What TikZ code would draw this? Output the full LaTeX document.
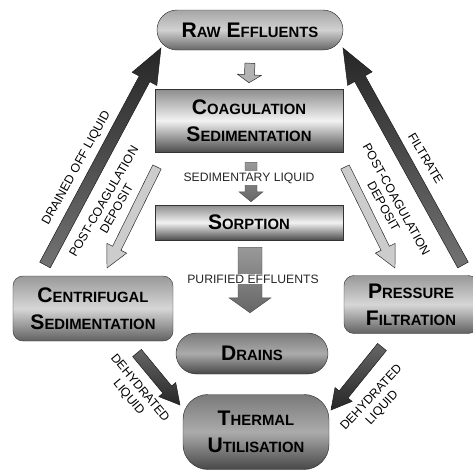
\documentclass[tikz,border=0pt]{standalone}
\usepackage{fontspec}
\setmainfont{Liberation Sans}
\usetikzlibrary{calc}

% first letter large, rest in small capitals
\newcommand{\capw}[2]{{\fontsize{18}{23}\selectfont #1}{\fontsize{12.7}{23}\selectfont #2}}
% block arrow: style, tail, tip, shaft half width, head half width, head length
\newcommand{\flowarrow}[6]{%
    \coordinate (hb) at ($(#3)!#6!(#2)$);
    \draw[#1] ($(#2)!#4!90:(#3)$) -- ($(hb)!#4!90:(#3)$) -- ($(hb)!#5!90:(#3)$) -- (#3)
        -- ($(hb)!#5!-90:(#3)$) -- ($(hb)!#4!-90:(#3)$) -- ($(#2)!#4!-90:(#3)$) -- cycle;}

\begin{document}
\begin{tikzpicture}[
        stage/.style={rectangle, draw=black!80, align=center, inner sep=0pt, font=\bfseries\fontsize{18}{23}\selectfont},
        bright/.style={stage, top color=black!45, bottom color=black!70, middle color=black!5},
        plain/.style={stage, rounded corners=0.3cm, top color=black!40, bottom color=black!62, middle color=black!16},
        pill/.style={stage, top color=black!35, bottom color=black!60, middle color=black!18},
        dark/.style={stage, top color=black!52, bottom color=black!72, middle color=black!33},
        flowlabel/.style={font=\fontsize{10.4}{12}\selectfont, text=black!85, inner sep=1pt},
        sidelabel/.style={font=\fontsize{10.5}{12.5}\selectfont, align=center, inner sep=0pt},
        upflow/.style={draw=black!90, top color=black!85, bottom color=black!55},
        downflow/.style={draw=black!90, top color=black!60, bottom color=black!85},
        lightflow/.style={draw=black!85, fill=black!20},
        midflow/.style={draw=black!70, top color=black!40, bottom color=black!60}
    ]

    % Frame of the figure
    \useasboundingbox (0,0) rectangle (14.19,14.1);
    \clip (0,0) rectangle (14.19,14.1);

    % Process stages
    \node[pill, rounded corners=0.6cm, minimum width=5.58cm, minimum height=1.2cm] (raw) at (7.5,13.2) {\capw{R}{AW} \capw{E}{FFLUENTS}};
    \node[bright, minimum width=5.64cm, minimum height=1.89cm] (coag) at (7.47,10.485) {\capw{C}{OAGULATION}\\\capw{S}{EDIMENTATION}};
    \node[bright, minimum width=5.64cm, minimum height=1.05cm] (sorp) at (7.47,7.425) {\capw{S}{ORPTION}};
    \node[plain, minimum width=4.8cm, minimum height=1.95cm] (centr) at (2.79,4.845) {\capw{C}{ENTRIFUGAL}\\\capw{S}{EDIMENTATION}};
    \node[plain, minimum width=4.02cm, minimum height=1.74cm] (press) at (12.33,4.965) {\capw{P}{RESSURE}\\\capw{F}{ILTRATION}};
    \node[dark, rounded corners=0.615cm, minimum width=4.56cm, minimum height=1.23cm] (drains) at (7.56,3.495) {\capw{D}{RAINS}};
    \node[dark, rounded corners=0.75cm, minimum width=4.38cm, minimum height=2.25cm] (therm) at (7.68,1.14) {\capw{T}{HERMAL}\\\capw{U}{TILISATION}};

    % Main line down the middle
    \coordinate (t1) at ($(raw.south)+(0,-0.39)$);
    \coordinate (h1) at ($(coag.north)+(0,0.18)$);
    \flowarrow{lightflow, fill=black!30}{t1}{h1}{0.15cm}{0.36cm}{0.24cm}
    \coordinate (t2) at ($(coag.south)+(0.06,-0.3)$);
    \coordinate (h2) at ($(sorp.north)+(0.06,0.09)$);
    \flowarrow{midflow}{t2}{h2}{0.18cm}{0.36cm}{0.3cm}
    \node[flowlabel, fill=white] (sedliq) at (7.47,8.76) {SEDIMENTARY LIQUID};
    \coordinate (t3) at ($(sorp.south)+(0.03,-0.21)$);
    \coordinate (h3) at ($(drains.north)+(-0.06,0.6)$);
    \flowarrow{midflow}{t3}{h3}{0.36cm}{0.63cm}{0.45cm}
    \node[flowlabel, fill=white] (purif) at (7.59,5.73) {PURIFIED EFFLUENTS};

    % Left branch
    \coordinate (ldt) at (1.35,6.15);
    \coordinate (ldh) at (4.83,12.66);
    \flowarrow{upflow}{ldt}{ldh}{0.18cm}{0.42cm}{1.05cm}
    \coordinate (llt) at (4.71,9.09);
    \coordinate (llh) at (3.21,6.06);
    \flowarrow{lightflow}{llt}{llh}{0.14cm}{0.33cm}{0.66cm}
    \node[sidelabel, rotate=61] (drained) at (2.3,9.05) {DRAINED OFF LIQUID};
    \node[sidelabel, rotate=60] (lpost) at (3.3,7.95) {POST-COAGULATION\\DEPOSIT};

    % Right branch
    \coordinate (rdt) at (13.89,6.15);
    \coordinate (rdh) at (10.29,12.66);
    \flowarrow{upflow}{rdt}{rdh}{0.18cm}{0.42cm}{1.05cm}
    \coordinate (rlt) at (10.35,9.09);
    \coordinate (rlh) at (11.85,6.06);
    \flowarrow{lightflow}{rlt}{rlh}{0.14cm}{0.33cm}{0.66cm}
    \node[sidelabel, rotate=-59] (filtr) at (12.77,9.35) {FILTRATE};
    \node[sidelabel, rotate=-61] (rpost) at (11.7,8.01) {POST-COAGULATION\\DEPOSIT};

    % Dehydrated liquid to thermal utilisation
    \coordinate (blt) at (4.11,3.51);
    \coordinate (blh) at (5.4,1.95);
    \flowarrow{downflow}{blt}{blh}{0.17cm}{0.33cm}{0.6cm}
    \coordinate (brt) at (11.46,3.69);
    \coordinate (brh) at (9.93,1.8);
    \flowarrow{downflow}{brt}{brh}{0.17cm}{0.33cm}{0.6cm}
    \node[sidelabel, rotate=-50] (ldehyd) at (4.02,2.31) {DEHYDRATED\\LIQUID};
    \node[sidelabel, rotate=47] (rdehyd) at (11.31,2.01) {DEHYDRATED\\LIQUID};

\end{tikzpicture}
\end{document}
